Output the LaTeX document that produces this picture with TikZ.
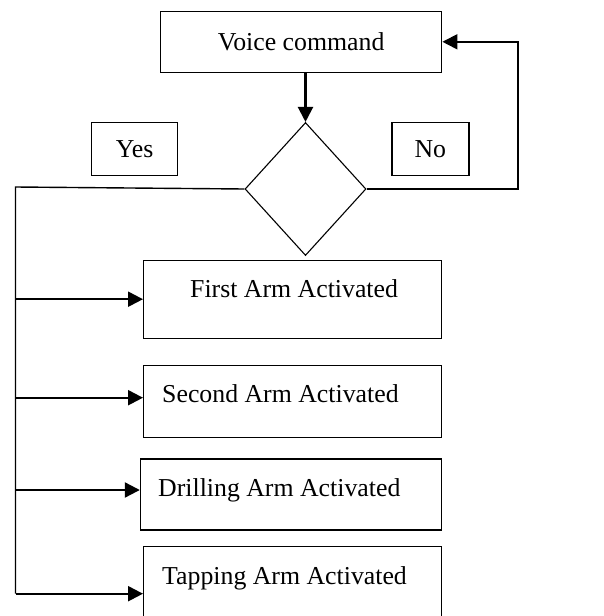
\documentclass[tikz,border=0pt]{standalone}
\usepackage{fontspec}
\setmainfont{Liberation Serif}
\usetikzlibrary{shapes.geometric,arrows.meta}

\tikzset{
  box/.style={draw, line width=1.4pt, inner sep=0pt, font=\fontsize{25.8}{30}\selectfont},
  tag/.style={anchor=base west, inner sep=0pt, font=\fontsize{25.8}{30}\selectfont},
  flow/.style={line width=2.2pt, -{Triangle[length=15pt,width=15pt]}},
  wire/.style={line width=1.4pt},
}

\begin{document}
\begin{tikzpicture}[x=1pt,y=-1pt]
\useasboundingbox (0,0) rectangle (603,616);

% command and decision
\node[box, minimum width=281pt, minimum height=61pt] (voice) at (301.2,41.8) {Voice command};
\node[draw, diamond, line width=1.1pt, minimum width=121pt, minimum height=133pt, inner sep=0pt] (check) at (305.5,189) {};
\node[box, minimum width=86pt, minimum height=53pt] (yes) at (134.7,149) {Yes};
\node[box, minimum width=77pt, minimum height=53pt] (no) at (430.3,149) {No};

% the four arms
\node[box, minimum width=298pt, minimum height=78pt] (first) at (292.7,299.2) {};
\node[box, minimum width=298pt, minimum height=72pt] (second) at (292.7,401.7) {};
\node[box, minimum width=301pt, minimum height=71pt] (drill) at (291,494.5) {};
\node[box, minimum width=298pt, minimum height=94pt] (tap) at (292.7,593.7) {};

\node[tag] (firsttxt) at (190,297.7) {First Arm Activated};
\node[tag] (secondtxt) at (162,402.7) {Second Arm Activated};
\node[tag] (drilltxt) at (158,496.7) {Drilling Arm Activated};
\node[tag] (taptxt) at (162,584) {Tapping Arm Activated};

% wiring
\coordinate (bus) at (15.5,187);
\coordinate (loop) at (518,189);
\coordinate (secondin) at ([yshift=4pt]second.west);
\coordinate (drillin) at ([yshift=4.5pt]drill.west);

\draw[flow] (check.north |- voice.south) -- (check.north);
\draw[flow, line width=1.8pt] (check.east) -- (loop) |- (voice.east);

\draw[wire] (check.west) -- (bus) -- (bus |- tap.west);
\draw[flow] (bus |- first.west) -- (first.west);
\draw[flow] (bus |- secondin) -- (secondin);
\draw[flow] (bus |- drillin) -- (drillin);
\draw[flow] (bus |- tap.west) -- (tap.west);
\end{tikzpicture}
\end{document}
